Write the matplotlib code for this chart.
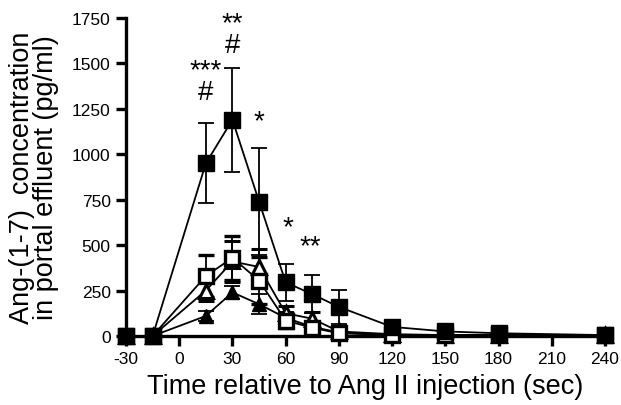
import matplotlib
matplotlib.use("Agg")
import matplotlib.pyplot as plt

plt.rcParams['font.family'] = ['Liberation Sans', 'DejaVu Sans']
plt.rcParams['axes.unicode_minus'] = False

times = [-30, -15, 15, 30, 45, 60, 75, 90, 120, 150, 180, 240]

filled_sq = [0, 0, 950, 1190, 740, 295, 230, 160, 50, 25, 15, 5]
filled_sq_err = [0, 0, 220, 285, 295, 100, 105, 95, 20, 10, 8, 5]

open_sq = [0, 0, 330, 430, 305, 85, 45, 15, 5, 5, 5, 5]
open_sq_err = [0, 0, 115, 120, 130, 40, 25, 10, 5, 3, 3, 3]

open_tri = [0, 0, 250, 410, 380, 125, 95, 25, 10, 5, 5, 5]
open_tri_err = [0, 0, 60, 115, 100, 40, 35, 20, 5, 3, 3, 3]

filled_tri = [0, 0, 110, 240, 175, 100, 50, 20, 5, 5, 5, 5]
filled_tri_err = [0, 0, 30, 35, 55, 30, 20, 10, 3, 3, 3, 3]

xticks = [-30, 0, 30, 60, 90, 120, 150, 180, 210, 240]
yticks = [0, 250, 500, 750, 1000, 1250, 1500, 1750]

# (x, baseline of last line in data units, text, line spacing)
annotations = [
    (15, 1304, "***\n#", 0.78),
    (30, 1563, "**\n#", 0.80),
    (45, 1144, "*", 1.0),
    (61, 561, "*", 1.0),
    (74, 456, "**", 1.0),
]

fig = plt.figure(figsize=(6.21, 4.06), dpi=100)
ax = fig.add_axes([0.2029, 0.17, 0.7713, 0.7832])

common = dict(color='black', ecolor='black', elinewidth=1.3, capsize=6,
              capthick=1.3, linewidth=1.3, clip_on=False)

series = [
    (filled_tri, filled_tri_err, dict(marker='^', markersize=10, markerfacecolor='black', markeredgecolor='black')),
    (open_tri, open_tri_err, dict(marker='^', markersize=10, markerfacecolor='white', markeredgecolor='black', markeredgewidth=2.2)),
    (open_sq, open_sq_err, dict(marker='s', markersize=10, markerfacecolor='white', markeredgecolor='black', markeredgewidth=2.4)),
    (filled_sq, filled_sq_err, dict(marker='s', markersize=12, markerfacecolor='black', markeredgecolor='black')),
]
for vals, errs, mk in series:
    eb = ax.errorbar(times, vals, yerr=errs, **common, **mk, zorder=3)
    for c in eb.lines[1]:
        c.set_clip_on(False)
    for c in eb.lines[2]:
        c.set_clip_on(False)

for x, y, s, ls in annotations:
    ax.text(x, y, s, ha='center', va='baseline', fontsize=20,
            linespacing=ls, multialignment='center')

ax.set_xlim(-30, 240)
ax.set_ylim(0, 1750)
ax.set_xticks(xticks)
ax.set_yticks(yticks)
for s in ['top', 'right']:
    ax.spines[s].set_visible(False)
for s in ['left', 'bottom']:
    ax.spines[s].set_linewidth(2.4)
ax.tick_params(direction='out', length=7, width=2.4, labelsize=12.5, pad=4)

ax.set_xlabel("Time relative to Ang II injection (sec)", fontsize=19.5, labelpad=5)
ax.set_ylabel("Ang-(1-7)  concentration\nin portal effluent (pg/ml)", fontsize=19.5,
              labelpad=9, linespacing=0.9)

fig.savefig("out.png", dpi=100)
